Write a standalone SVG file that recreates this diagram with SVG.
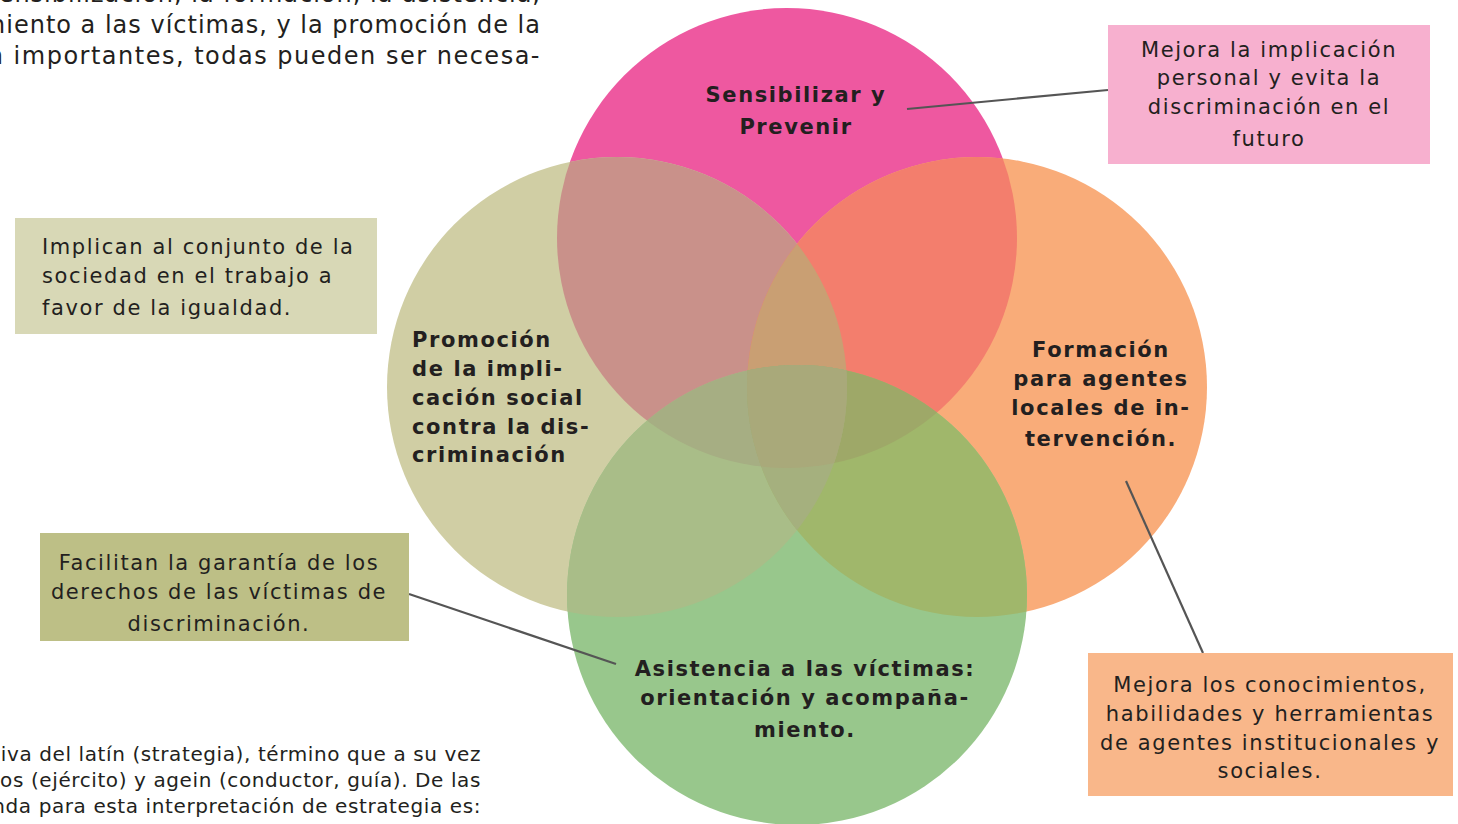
<svg xmlns="http://www.w3.org/2000/svg" width="1458" height="824" viewBox="0 0 1458 824">
<style>
.body{font-family:"DejaVu Sans","Liberation Sans",sans-serif;fill:#231f20;}
.para{font-size:24px;letter-spacing:1.5px;}
.tight{letter-spacing:1px;}
.foot{font-size:20px;letter-spacing:0.6px;}
.box{font-size:21px;letter-spacing:1.6px;}
.lbl{font-size:21px;font-weight:bold;letter-spacing:1.6px;}
.conn{stroke:#555555;stroke-width:2.2;fill:none;}
</style>
<defs>
<clipPath id="cP"><circle cx="787" cy="238" r="230"/></clipPath>
<clipPath id="cK"><circle cx="617" cy="387" r="230"/></clipPath>
<clipPath id="cO"><circle cx="977" cy="387" r="230"/></clipPath>
<clipPath id="cG"><circle cx="797" cy="595" r="230"/></clipPath>
</defs>
<rect width="1458" height="824" fill="#ffffff"/>

<g id="text-top" class="body para" text-anchor="end">
<text class="tight" x="541" y="2">sensibilización, la formación, la asistencia,</text>
<text class="tight" x="541" y="33">miento a las víctimas, y la promoción de la</text>
<text x="541" y="64">n importantes, todas pueden ser necesa-</text>
</g>
<g id="text-bottom" class="body foot" text-anchor="end">
<text x="481" y="761">iva del latín (strategia), término que a su vez</text>
<text x="481" y="787">os (ejército) y agein (conductor, guía). De las</text>
<text x="481" y="813">nda para esta interpretación de estrategia es:</text>
</g>

<g id="venn">
<circle cx="787" cy="238" r="230" fill="#ee58a0"/>
<circle cx="617" cy="387" r="230" fill="#d0cea4"/>
<circle cx="977" cy="387" r="230" fill="#f9ac79"/>
<circle cx="797" cy="595" r="230" fill="#98c78c"/>
<circle cx="787" cy="238" r="230" fill="#c9918a" clip-path="url(#cK)"/>
<circle cx="787" cy="238" r="230" fill="#f37e6d" clip-path="url(#cO)"/>
<circle cx="617" cy="387" r="230" fill="#a9bd88" clip-path="url(#cG)"/>
<circle cx="977" cy="387" r="230" fill="#a0b76b" clip-path="url(#cG)"/>
<g clip-path="url(#cK)"><circle cx="787" cy="238" r="230" fill="#c99f73" clip-path="url(#cO)"/></g>
<g clip-path="url(#cK)"><circle cx="787" cy="238" r="230" fill="#a6ae83" clip-path="url(#cG)"/></g>
<g clip-path="url(#cO)"><circle cx="787" cy="238" r="230" fill="#9ea868" clip-path="url(#cG)"/></g>
<g clip-path="url(#cK)"><circle cx="977" cy="387" r="230" fill="#a5b07e" clip-path="url(#cG)"/></g>
<g clip-path="url(#cK)"><g clip-path="url(#cO)"><circle cx="787" cy="238" r="230" fill="#a9a97a" clip-path="url(#cG)"/></g></g>
</g>

<g id="connectors">
<line class="conn" x1="907" y1="109" x2="1108" y2="90"/>
<line class="conn" x1="409" y1="594" x2="616" y2="664"/>
<line class="conn" x1="1126" y1="481" x2="1203" y2="653"/>
</g>

<g id="node-sensibilizar" class="body lbl" text-anchor="middle">
<text x="796" y="102">Sensibilizar y</text>
<text x="796" y="134">Prevenir</text>
</g>
<g id="node-promocion" class="body lbl">
<text x="412" y="347">Promoción</text>
<text x="412" y="376">de la impli-</text>
<text x="412" y="405">cación social</text>
<text x="412" y="434">contra la dis-</text>
<text x="412" y="462">criminación</text>
</g>
<g id="node-formacion" class="body lbl" text-anchor="middle">
<text x="1101" y="357">Formación</text>
<text x="1101" y="386">para agentes</text>
<text x="1101" y="415">locales de in-</text>
<text x="1101" y="446">tervención.</text>
</g>
<g id="node-asistencia" class="body lbl" text-anchor="middle">
<text x="805" y="676">Asistencia a las víctimas:</text>
<text x="805" y="705">orientación y acompaña-</text>
<text x="805" y="737">miento.</text>
</g>

<g id="box-implicacion">
<rect x="1108" y="25" width="322" height="139" fill="#f7b0cf"/>
<g class="body box" text-anchor="middle">
<text x="1269" y="57">Mejora la implicación</text>
<text x="1269" y="85">personal y evita la</text>
<text x="1269" y="114">discriminación en el</text>
<text x="1269" y="146">futuro</text>
</g>
</g>
<g id="box-sociedad">
<rect x="15" y="218" width="362" height="116" fill="#d8d8b6"/>
<g class="body box">
<text x="42" y="254">Implican al conjunto de la</text>
<text x="42" y="283">sociedad en el trabajo a</text>
<text x="42" y="315">favor de la igualdad.</text>
</g>
</g>
<g id="box-victimas">
<rect x="40" y="533" width="369" height="108" fill="#bdbf86"/>
<g class="body box" text-anchor="middle">
<text x="219" y="570">Facilitan la garantía de los</text>
<text x="219" y="599">derechos de las víctimas de</text>
<text x="219" y="631">discriminación.</text>
</g>
</g>
<g id="box-conocimientos">
<rect x="1088" y="653" width="365" height="143" fill="#f9b78a"/>
<g class="body box" text-anchor="middle">
<text x="1270" y="692">Mejora los conocimientos,</text>
<text x="1270" y="721">habilidades y herramientas</text>
<text x="1270" y="750">de agentes institucionales y</text>
<text x="1270" y="778">sociales.</text>
</g>
</g>
</svg>
